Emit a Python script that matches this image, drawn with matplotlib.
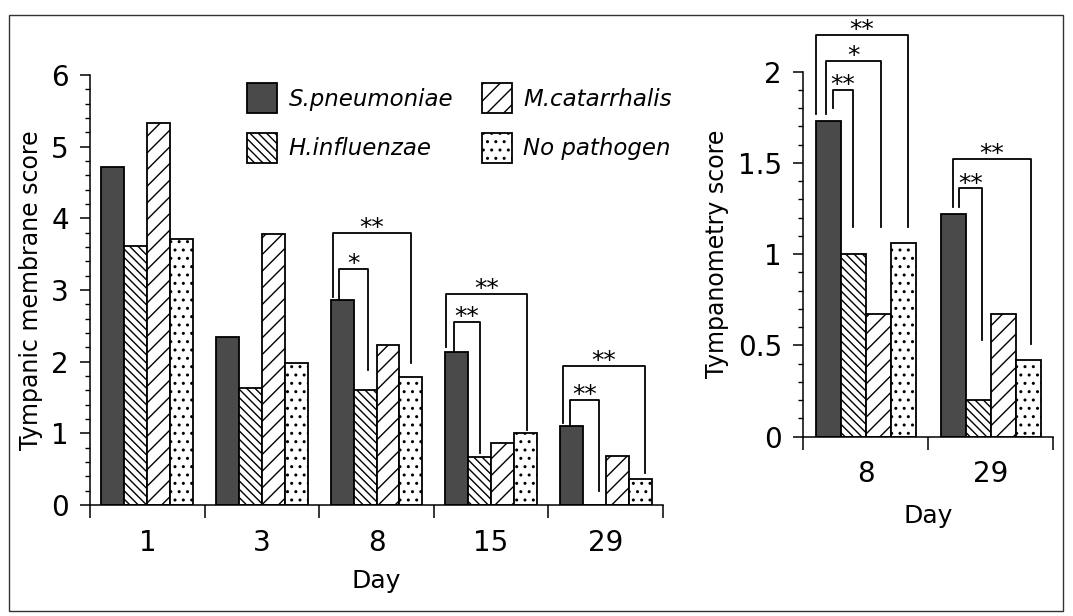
import numpy as np
import matplotlib.pyplot as plt
from matplotlib.patches import Patch, Rectangle

# Groups and their bar styles
groups = ['S.pneumoniae', 'H.influenzae', 'M.catarrhalis', 'No pathogen']
colors = ['#4a4a4a', 'white', 'white', 'white']
hatches = [None, '\\\\\\\\', '//', '..']

# Tympanic membrane score by day
tm_days = ['1', '3', '8', '15', '29']
tm_spn = [4.72, 2.35, 2.86, 2.13, 1.10]
tm_hin = [3.62, 1.63, 1.61, 0.67, 0.0]
tm_mca = [5.33, 3.78, 2.23, 0.86, 0.68]
tm_nop = [3.71, 1.98, 1.79, 1.01, 0.36]

# Tympanometry score by day
ty_days = ['8', '29']
ty_spn = [1.73, 1.22]
ty_hin = [1.00, 0.20]
ty_mca = [0.67, 0.67]
ty_nop = [1.06, 0.42]

# significance brackets: (day index, from bar, to bar, top, left foot, right foot, label)
tm_sig = [
    (2, 0, 1, 3.29, 2.86, 1.88, '*'),
    (2, 0, 3, 3.80, 2.90, 1.98, '**'),
    (3, 0, 1, 2.56, 2.13, 0.73, '**'),
    (3, 0, 3, 2.95, 2.21, 1.05, '**'),
    (4, 0, 1, 1.47, 1.10, 0.19, '**'),
    (4, 0, 3, 1.94, 1.14, 0.45, '**'),
]
ty_sig = [
    (0, 0, 1, 1.90, 1.80, 1.15, '**'),
    (0, 0, 2, 2.06, 1.77, 1.15, '*'),
    (0, 0, 3, 2.20, 1.77, 1.15, '**'),
    (1, 0, 1, 1.36, 1.26, 0.53, '**'),
    (1, 0, 3, 1.52, 1.26, 0.51, '**'),
]
# small sideways nudges of the bracket feet so nested brackets do not overlap
tm_nudge = [(-0.03, 0.03), (-0.08, 0.0), (-0.02, 0.0), (-0.09, 0.01),
            (-0.01, 0.04), (-0.07, 0.04)]
ty_nudge = [(0.04, 0.0), (-0.02, 0.02), (-0.1, 0.04), (0.05, 0.03), (0.0, 0.02)]

plt.rcParams['font.family'] = ['DejaVu Sans']
plt.rcParams['hatch.linewidth'] = 1.0

width = 0.2
offsets = np.array([-0.3, -0.1, 0.1, 0.3])


def draw_panel(ax, days, series, sig, nudge, ymax, major, minor, ylabel, xpad):
    x = np.arange(len(days))
    for k, vals in enumerate(series):
        ax.bar(x + offsets[k], vals, width, color=colors[k], hatch=hatches[k],
               edgecolor='black', linewidth=1.3, zorder=2)
    for (d, a, b, top, fl, fr, lab), (na, nb) in zip(sig, nudge):
        xa = d + offsets[a] + na
        xb = d + offsets[b] + nb
        ax.plot([xa, xa, xb, xb], [fl, top, top, fr], color='black',
                linewidth=1.3, clip_on=False, zorder=3)
        ax.annotate(lab, xy=((xa + xb) / 2, top), xytext=(0, 3.5),
                    textcoords='offset points', ha='center', va='center',
                    fontsize=18, annotation_clip=False)
    ax.set_xlim(-0.5, len(days) - 0.5)
    ax.set_ylim(0, ymax)
    ax.set_yticks(np.arange(0, ymax + major / 2, major))
    ax.set_yticks(np.arange(0, ymax + minor / 2, minor), minor=True)
    ax.set_yticklabels([f'{v:g}' for v in np.arange(0, ymax + major / 2, major)],
                       fontsize=20)
    ax.set_xticks(x)
    ax.set_xticklabels(days, fontsize=20)
    ax.set_xticks(np.arange(-0.5, len(days)), minor=True)
    ax.tick_params(axis='x', which='major', length=0, pad=17)
    ax.tick_params(axis='x', which='minor', length=9.5, width=1.1, direction='out')
    ax.tick_params(axis='y', which='major', length=7.2, width=1.1, pad=8)
    ax.tick_params(axis='y', which='minor', length=3.6, width=1.0)
    for s in ['top', 'right']:
        ax.spines[s].set_visible(False)
    for s in ['left', 'bottom']:
        ax.spines[s].set_linewidth(1.1)
    ax.set_ylabel(ylabel, fontsize=17, labelpad=6)
    ax.set_xlabel('Day', fontsize=18, labelpad=xpad)


fig = plt.figure(figsize=(10.73, 6.16), dpi=100)
ax1 = fig.add_axes([0.0839, 0.1802, 0.5340, 0.6981])
ax2 = fig.add_axes([0.7484, 0.2911, 0.2330, 0.5925])

draw_panel(ax1, tm_days, [tm_spn, tm_hin, tm_mca, tm_nop], tm_sig, tm_nudge,
           6, 1, 0.2, 'Tympanic membrane score', 9)
draw_panel(ax2, ty_days, [ty_spn, ty_hin, ty_mca, ty_nop], ty_sig, ty_nudge,
           2, 0.5, 0.1, 'Tympanometry score', 11)

handles = [Patch(facecolor=colors[k], hatch=hatches[k], edgecolor='black',
                 linewidth=1.3) for k in range(4)]
ax1.legend(handles, groups, ncol=2, loc='upper left',
           bbox_to_anchor=(247 / 1073, 1 - 83 / 616), bbox_transform=fig.transFigure,
           frameon=False, prop={'style': 'italic', 'size': 16.5},
           handlelength=1.31, handleheight=1.64, handletextpad=0.5,
           labelspacing=0.85, columnspacing=1.25, borderpad=0, borderaxespad=0)

# frame around the whole figure
fig.patches.append(Rectangle((9 / 1073, 5 / 616), 1054 / 1073, 596 / 616,
                             transform=fig.transFigure, fill=False,
                             edgecolor='#333333', linewidth=1.0))

fig.savefig('out.png', dpi=100)
